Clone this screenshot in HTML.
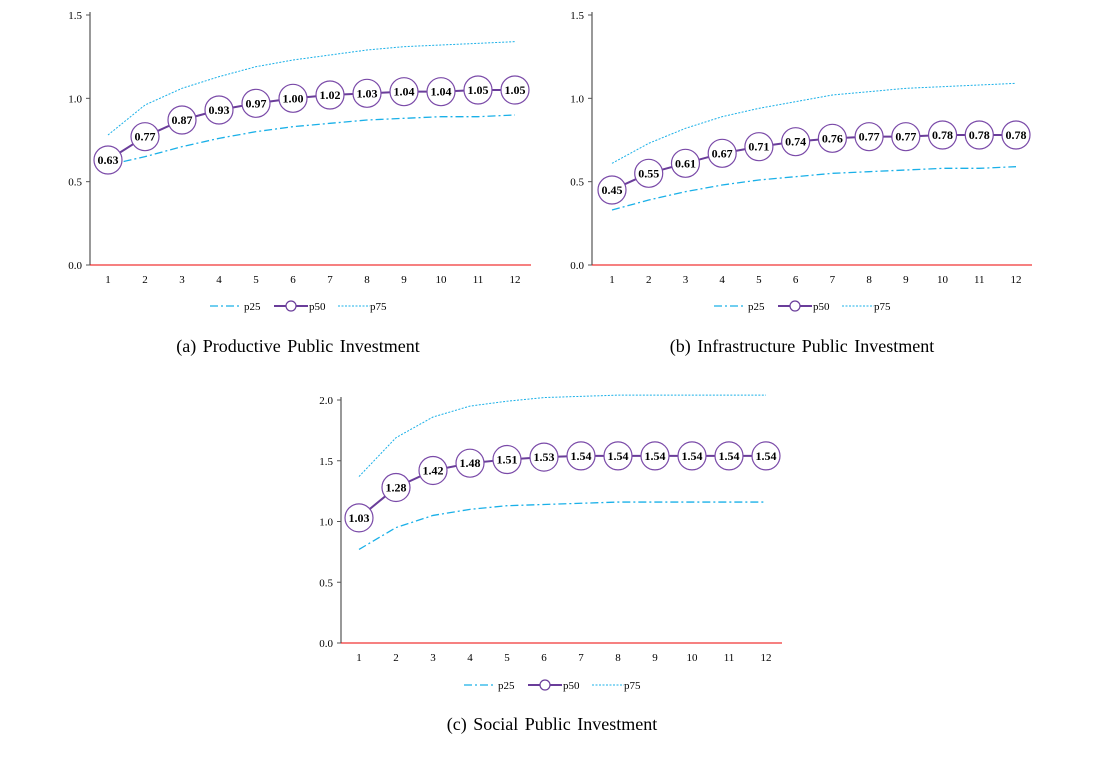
<!DOCTYPE html>
<html><head><meta charset="utf-8"><style>
body{margin:0;background:#fff;width:1107px;height:757px;overflow:hidden;font-family:"Liberation Serif",serif}
svg{position:absolute;left:0;top:0}
</style></head><body>
<svg id="s" width="1107" height="757"></svg>
<script>
const xCats=[1,2,3,4,5,6,7,8,9,10,11,12];
const aP25=[0.60,0.65,0.71,0.76,0.80,0.83,0.85,0.87,0.88,0.89,0.89,0.90];
const aP50=[0.63,0.77,0.87,0.93,0.97,1.00,1.02,1.03,1.04,1.04,1.05,1.05];
const aP75=[0.78,0.96,1.06,1.13,1.19,1.23,1.26,1.29,1.31,1.32,1.33,1.34];
const bP25=[0.33,0.39,0.44,0.48,0.51,0.53,0.55,0.56,0.57,0.58,0.58,0.59];
const bP50=[0.45,0.55,0.61,0.67,0.71,0.74,0.76,0.77,0.77,0.78,0.78,0.78];
const bP75=[0.61,0.73,0.82,0.89,0.94,0.98,1.02,1.04,1.06,1.07,1.08,1.09];
const cP25=[0.77,0.95,1.05,1.10,1.13,1.14,1.15,1.16,1.16,1.16,1.16,1.16];
const cP50=[1.03,1.28,1.42,1.48,1.51,1.53,1.54,1.54,1.54,1.54,1.54,1.54];
const cP75=[1.37,1.69,1.86,1.95,1.99,2.02,2.03,2.04,2.04,2.04,2.04,2.04];
const abTicks=[0,0.5,1.0,1.5];
const cTicks=[0,0.5,1.0,1.5,2.0];
const NS='http://www.w3.org/2000/svg';
const svg=document.getElementById('s');
function mk(t,attrs,parent){const e=document.createElementNS(NS,t);for(const k in attrs)e.setAttribute(k,attrs[k]);(parent||svg).appendChild(e);return e;}
function panel(id,ax,x1,x12,yTop,yBot,yMax,ticks,p25,p50,p75,legY,capY,capX,caption){
  const g=mk('g',{});
  
  
  const sx=i=>x1+(x12-x1)*(i-1)/11;
  const sy=v=>yBot-(yBot-yTop)*v/yMax;
  const ya=mk('line',{x1:ax,y1:yTop-3,x2:ax,y2:yBot,stroke:'#555','stroke-width':1.2},g);
  
  
  const xa=mk('line',{x1:ax,y1:yBot,x2:x12+16,y2:yBot,stroke:'#e00','stroke-width':1},g);
  
  
  ticks.forEach(t=>{
    mk('line',{x1:ax-4,y1:sy(t),x2:ax,y2:sy(t),stroke:'#555'},g);
    const tx=mk('text',{x:ax-8,y:sy(t)+4,'text-anchor':'end','font-size':11},g);
    tx.textContent=t.toFixed(1);
    
    
  });
  xCats.forEach(c=>{
    const tx=mk('text',{x:sx(c),y:yBot+18,'text-anchor':'middle','font-size':11},g);
    tx.textContent=c;
    
    
  });
  const pts=a=>a.map((v,i)=>sx(xCats[i])+','+sy(v)).join(' ');
  const l25=mk('polyline',{points:pts(p25),fill:'none',stroke:'#1ab0e8','stroke-width':1.3,'stroke-dasharray':'8,3,2,3'},g);
  
  
  const l75=mk('polyline',{points:pts(p75),fill:'none',stroke:'#1ab0e8','stroke-width':1,'stroke-dasharray':'2,1.5'},g);
  
  
  const l50=mk('polyline',{points:pts(p50),fill:'none',stroke:'#6a3d9a','stroke-width':2},g);
  
  
  p50.forEach((v,i)=>{
    const c=mk('circle',{cx:sx(xCats[i]),cy:sy(v),r:14,fill:'#fff',stroke:'#7a4aa8','stroke-width':1.2},g);
    
    
    const t=mk('text',{x:sx(xCats[i]),y:sy(v)+4,'text-anchor':'middle','font-size':12,'font-weight':'bold'},g);
    t.textContent=v.toFixed(2);
    
    
  });
  const lx=capX-88;
  const lg=mk('g',{},g);
  
  
  mk('line',{x1:lx,y1:legY,x2:lx+30,y2:legY,stroke:'#1ab0e8','stroke-width':1.3,'stroke-dasharray':'8,3,2,3'},lg);
  let t=mk('text',{x:lx+34,y:legY+4,'font-size':11},lg);t.textContent='p25';
  
  
  mk('line',{x1:lx+64,y1:legY,x2:lx+98,y2:legY,stroke:'#6a3d9a','stroke-width':2},lg);
  mk('circle',{cx:lx+81,cy:legY,r:5,fill:'#fff',stroke:'#6a3d9a','stroke-width':1.2},lg);
  t=mk('text',{x:lx+99,y:legY+4,'font-size':11},lg);t.textContent='p50';
  
  
  mk('line',{x1:lx+128,y1:legY,x2:lx+160,y2:legY,stroke:'#1ab0e8','stroke-width':1,'stroke-dasharray':'2,1.5'},lg);
  t=mk('text',{x:lx+160,y:legY+4,'font-size':11},lg);t.textContent='p75';
  
  
  const cap=mk('text',{x:capX,y:capY,'text-anchor':'middle','font-size':18,'word-spacing':'2px'},g);
  cap.textContent=caption;
  
  
}
panel('productive',90,108,515,15,265,1.5,abTicks,aP25,aP50,aP75,306,352,298,'(a) Productive Public Investment');
panel('infrastructure',592,612,1016,15,265,1.5,abTicks,bP25,bP50,bP75,306,352,802,'(b) Infrastructure Public Investment');
panel('social',341,359,766,400,643,2.0,cTicks,cP25,cP50,cP75,685,730,552,'(c) Social Public Investment');
</script>
</body></html>
